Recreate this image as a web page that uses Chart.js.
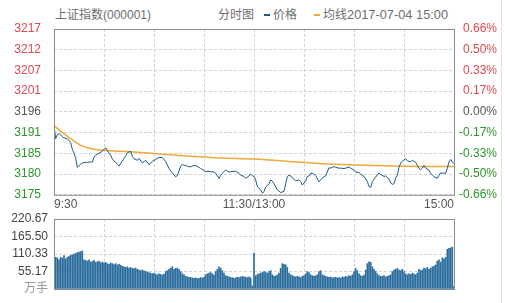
<!DOCTYPE html>
<html>
<head>
<meta charset="utf-8">
<script src="https://cdn.jsdelivr.net/npm/chart.js@4.4.0/dist/chart.umd.min.js"></script>
<style>
  html, body { margin: 0; padding: 0; background: #fff; }
  #wrap { position: relative; width: 505px; height: 303px; overflow: hidden;
    font-family: "Liberation Sans", Arial, "Noto Sans CJK SC", sans-serif; }
  .t { position: absolute; top: 7px; font-size: 12px; line-height: 16px; color: #6e6e6e; white-space: nowrap; }
  .dash { display: inline-block; width: 6px; height: 2px; margin-right: 3px; vertical-align: middle; position: relative; top: -1px; }
  #priceChart { position: absolute; left: 0; top: 0; }
  #volChart { position: absolute; left: 0; top: 205px; }
  #edge { position: absolute; left: 501px; top: 0; width: 1px; height: 303px; background: #e2e2e2; }
</style>
</head>
<body>
<div id="wrap">
  <div class="t" style="left:55px">上证指数(000001)</div>
  <div class="t" style="left:218px">分时图</div>
  <div class="t" style="left:264px"><span class="dash" style="background:#1f5a85"></span>价格</div>
  <div class="t" style="left:314px"><span class="dash" style="background:#f0aa3c"></span>均线<span style="font-size:12.8px">2017-07-04 15:00</span></div>
  <canvas id="priceChart" width="505" height="215"></canvas>
  <canvas id="volChart" width="505" height="98"></canvas>
  <div id="edge"></div>
</div>
<script>
/* ---------- data (minutes since 9:30, lunch break removed) ---------- */
const PREV_CLOSE = 3195.91;
const MAX_PCT = 0.66;

const priceMinutes = [0,1,2,3,4,5,6,8,10,11,12,13,14,16,17,19,20,22,23,24,25,27,29,31,33,34,35,38,39,41,43,44,46,47,48,50,51,53,55,57,59,61,63,65,67,69,71,73,74,76,77,78,79,80,82,83,85,87,88,90,91,93,94,96,97,99,100,101,103,105,106,108,109,111,112,114,115,117,118,119,120,121,122,124,125,126,127,129,130,131,132,133,134,136,138,139,140,141,142,143,145,147,148,149,151,152,153,154,155,156,157,159,160,161,163,165,166,168,169,171,172,174,175,177,178,180,181,183,184,186,188,189,190,191,193,195,196,198,199,201,202,203,204,205,206,207,208,209,211,212,214,215,217,218,219,220,221,222,223,225,226,228,230,231,232,233,235,236,237,238,239,240];
const prices = [3192.4,3189.1,3190.1,3190.4,3190.1,3189.6,3189.3,3189.1,3188.1,3186.4,3185.4,3184.1,3181.8,3182.6,3182.9,3183.1,3183.0,3183.2,3183.1,3184.4,3184.9,3185.4,3185.9,3186.8,3185.4,3184.9,3183.9,3182.6,3182.1,3183.4,3184.7,3185.5,3185.9,3184.6,3184.0,3183.6,3184.1,3182.9,3183.6,3182.5,3183.3,3183.8,3184.3,3184.3,3183.3,3181.5,3180.4,3179.4,3179.7,3182.1,3182.6,3182.3,3182.3,3182.1,3181.9,3182.2,3182.3,3181.8,3181.5,3181.0,3180.7,3180.8,3180.7,3180.6,3180.3,3179.0,3179.8,3180.3,3181.1,3180.6,3180.7,3180.8,3180.8,3180.3,3179.8,3179.5,3179.0,3179.6,3180.1,3179.7,3179.5,3178.6,3176.9,3176.1,3175.2,3175.6,3176.8,3177.6,3178.6,3178.3,3177.6,3176.8,3176.1,3175.4,3175.7,3177.6,3179.5,3179.8,3179.6,3179.1,3178.4,3178.6,3178.2,3177.3,3178.3,3179.5,3179.6,3180.3,3180.3,3180.1,3179.7,3178.1,3178.6,3179.1,3179.6,3181.7,3181.6,3182.0,3181.8,3181.6,3181.6,3181.5,3181.6,3181.9,3181.6,3181.1,3180.6,3180.5,3180.1,3179.5,3178.2,3176.9,3176.7,3178.2,3179.3,3180.4,3180.0,3179.5,3179.6,3178.8,3177.8,3177.5,3177.6,3179.1,3179.8,3181.8,3182.9,3183.4,3184.0,3183.5,3183.2,3183.6,3183.1,3182.3,3181.5,3181.2,3181.6,3182.3,3181.6,3181.1,3180.3,3179.4,3179.0,3179.8,3180.4,3180.3,3180.3,3181.6,3183.2,3183.8,3183.1,3182.8];

const avgMinutes = [0,4,10,16,22,28,40,52,64,76,88,100,120,148,167,208,240];
const avgPrices  = [3192.4,3191.0,3189.1,3187.4,3186.6,3186.2,3185.9,3185.6,3185.2,3184.8,3184.5,3184.2,3183.9,3183.1,3182.6,3182.1,3182.0];

// volume per minute, 万手
const volumes = [
  95,100,98,92,100,97,105,95,100,103,106,
  108,110,112,115,116,118,120,
  92,
  90,88,92,85,87,90,84,86,88,83,85,82,
  84,80,78,82,80,77,80,76,78,75,
  72,70,68,70,66,68,65,64,66,62,
  60,58,60,57,55,54,52,50,48,50,
  47,45,48,46,44,47,
  55,58,62,66,70,62,65,66,
  62,55,48,45,
  40,38,37,36,35,34,35,33,34,36,35,37,
  45,48,50,52,48,44,
  55,62,70,66,
  58,50,42,40,38,36,
  36,34,35,37,36,38,40,38,37,36,38,35,10,
  113,
  42,45,48,50,52,55,53,50,55,58,
  45,40,42,44,
  50,65,80,78,76,68,
  50,45,42,40,38,40,38,36,40,42,
  48,55,52,45,
  42,40,42,45,55,58,
  45,42,40,38,37,38,35,36,37,35,
  36,34,38,37,40,38,42,40,
  45,55,65,
  58,48,42,40,44,
  60,80,86,84,70,
  62,55,48,42,40,
  40,42,38,40,42,45,
  55,60,62,65,60,58,62,55,
  48,45,48,46,50,47,45,50,
  62,58,60,66,64,68,62,66,70,72,76,88,
  92,85,98,95,100,
  125,128,130,132,
  8
];

const xTickMinutes = [0,30,60,90,120,150,180,210,240];
const xTickLabels  = ['9:30','','','','11:30/13:00','','','','15:00'];
const leftLabels   = ['3175','3180','3185','3191','3196','3201','3207','3212','3217'];
const rightLabels  = ['-0.66%','-0.50%','-0.33%','-0.17%','0.00%','0.17%','0.33%','0.50%','0.66%'];
const volTickValues = [0,55.17,110.33,165.50,220.67];
const volTickLabels = ['万手','55.17','110.33','165.50','220.67'];

/* ---------- styles ---------- */
const FONT = { family: '"Liberation Sans", Arial, "Noto Sans CJK SC", sans-serif', size: 12 };
const UP = '#e0474f', DOWN = '#2c962c', FLAT = '#555555';
const GRID = { color: '#d4d4d4', drawTicks: false, offset: false };
const DASH = { display: false, dash: [3, 2] };

const yMin = PREV_CLOSE * (1 - MAX_PCT / 100);
const yMax = PREV_CLOSE * (1 + MAX_PCT / 100);

function levelColor(i) { return i < 4 ? DOWN : (i === 4 ? FLAT : UP); }

const framePlugin = {
  id: 'frame',
  afterDraw(chart) {
    const { ctx, chartArea: a } = chart;
    ctx.save();
    ctx.strokeStyle = '#8c8c8c';
    ctx.lineWidth = 1;
    ctx.strokeRect(a.left + 0.5, a.top + 0.5, a.right - a.left, a.bottom - a.top);
    ctx.restore();
  }
};

const xScale = {
  type: 'linear', min: 0, max: 240, offset: false,
  grid: GRID, border: DASH,
  afterBuildTicks: s => { s.ticks = xTickMinutes.map(v => ({ value: v })); },
  ticks: { autoSkip: false, maxRotation: 0, align: 'inner', padding: 3, color: '#555', font: FONT,
    callback: (v, i) => xTickLabels[i] }
};

new Chart(document.getElementById('priceChart'), {
  type: 'line',
  data: { datasets: [
    { label: '价格', data: priceMinutes.map((m, i) => ({ x: m, y: prices[i] })),
      borderColor: '#1f5a85', borderWidth: 1, pointRadius: 0, tension: 0 },
    { label: '均线', data: avgMinutes.map((m, i) => ({ x: m, y: avgPrices[i] })),
      borderColor: '#f0aa3c', borderWidth: 1.5, pointRadius: 0, tension: 0.3 }
  ] },
  options: {
    responsive: false, animation: false,
    layout: { padding: { top: 29, right: 8, left: 0, bottom: 0 } },
    plugins: { legend: { display: false }, tooltip: { enabled: false } },
    scales: {
      x: { ...xScale, afterFit: s => { s.height = 17; } },
      y: { position: 'left', min: yMin, max: yMax,
        grid: GRID, border: DASH,
        afterBuildTicks: s => { s.ticks = leftLabels.map((_, i) => ({ value: yMin + i * (yMax - yMin) / 8 })); },
        afterFit: s => { s.width = 54; },
        ticks: { padding: 13, font: FONT, color: c => levelColor(c.index), callback: (v, i) => leftLabels[i] } },
      yr: { position: 'right', min: -MAX_PCT, max: MAX_PCT,
        grid: { display: false, drawTicks: false }, border: { display: false },
        afterBuildTicks: s => { s.ticks = rightLabels.map((_, i) => ({ value: -MAX_PCT + i * MAX_PCT / 4 })); },
        afterFit: s => { s.width = 43; },
        ticks: { crossAlign: 'far', font: FONT, color: c => levelColor(c.index), callback: (v, i) => rightLabels[i] } }
    }
  },
  plugins: [framePlugin]
});

new Chart(document.getElementById('volChart'), {
  type: 'bar',
  data: { datasets: [
    { label: '成交量', data: volumes.map((v, i) => ({ x: i, y: v })),
      backgroundColor: '#2b6d9d', barThickness: 1 }
  ] },
  options: {
    responsive: false, animation: false,
    layout: { padding: { top: 14, right: 51, left: 0, bottom: 14 } },
    plugins: { legend: { display: false }, tooltip: { enabled: false } },
    scales: {
      x: { ...xScale, ticks: { display: false }, afterFit: s => { s.height = 0; } },
      y: { min: 0, max: 220.67,
        grid: GRID, border: DASH,
        afterBuildTicks: s => { s.ticks = volTickValues.map(v => ({ value: v })); },
        afterFit: s => { s.width = 54; },
        ticks: { padding: 6, font: FONT, color: c => c.index === 0 ? '#999' : '#444',
          callback: (v, i) => volTickLabels[i] } }
    }
  },
  plugins: [framePlugin]
});
</script>
</body>
</html>
